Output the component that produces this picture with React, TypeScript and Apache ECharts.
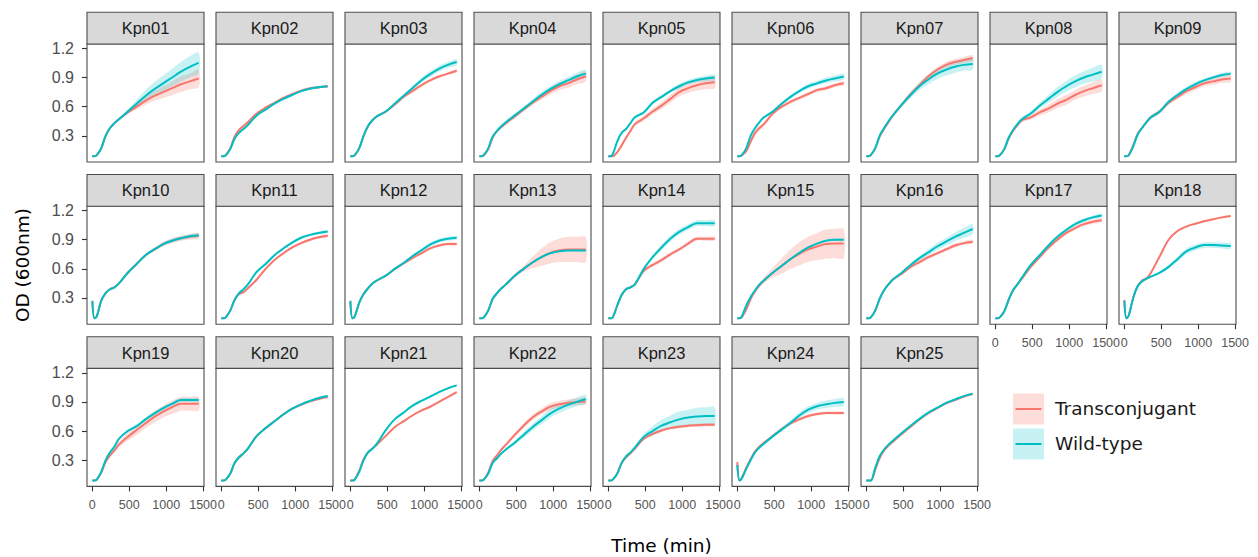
import React, { useEffect, useRef } from "react";
import * as echarts from "echarts";

// ---------- data ----------
const timeMin = [0, 30, 60, 120, 180, 240, 300, 360, 480, 600, 720, 840, 960, 1080, 1200, 1320, 1440];
const strainNames = [
  "Kpn01", "Kpn02", "Kpn03", "Kpn04", "Kpn05", "Kpn06", "Kpn07", "Kpn08", "Kpn09",
  "Kpn10", "Kpn11", "Kpn12", "Kpn13", "Kpn14", "Kpn15", "Kpn16", "Kpn17", "Kpn18",
  "Kpn19", "Kpn20", "Kpn21", "Kpn22", "Kpn23", "Kpn24", "Kpn25",
];
const groupNames = ["Transconjugant", "Wild-type"];
const xTicks = [0, 500, 1000, 1500];
const yTicks = [0.3, 0.6, 0.9, 1.2];

// mean OD (T = transconjugant, W = wild-type) and half-width of ribbon (sd)
const kpn01T = [0.09, 0.09, 0.10, 0.17, 0.30, 0.38, 0.43, 0.47, 0.54, 0.60, 0.66, 0.71, 0.75, 0.79, 0.83, 0.86, 0.89];
const kpn01W = [0.09, 0.09, 0.10, 0.17, 0.30, 0.38, 0.43, 0.47, 0.55, 0.63, 0.71, 0.78, 0.84, 0.90, 0.96, 1.01, 1.05];
const kpn01Tsd = [0.005, 0.005, 0.005, 0.01, 0.01, 0.01, 0.01, 0.01, 0.015, 0.03, 0.04, 0.05, 0.06, 0.07, 0.08, 0.08, 0.09];
const kpn01Wsd = [0.005, 0.005, 0.005, 0.01, 0.01, 0.01, 0.01, 0.015, 0.02, 0.04, 0.06, 0.07, 0.08, 0.09, 0.10, 0.11, 0.11];

const kpn02T = [0.09, 0.09, 0.10, 0.17, 0.29, 0.36, 0.40, 0.44, 0.53, 0.59, 0.64, 0.69, 0.73, 0.765, 0.79, 0.80, 0.81];
const kpn02W = [0.09, 0.09, 0.10, 0.16, 0.27, 0.33, 0.37, 0.41, 0.51, 0.57, 0.63, 0.68, 0.72, 0.76, 0.785, 0.80, 0.81];
const kpn02Tsd = [0.005, 0.005, 0.005, 0.01, 0.015, 0.015, 0.015, 0.015, 0.01, 0.01, 0.01, 0.01, 0.01, 0.01, 0.01, 0.01, 0.01];
const kpn02Wsd = [0.005, 0.005, 0.005, 0.01, 0.01, 0.01, 0.01, 0.01, 0.01, 0.01, 0.01, 0.01, 0.01, 0.01, 0.01, 0.01, 0.01];

const kpn03T = [0.09, 0.09, 0.10, 0.17, 0.30, 0.40, 0.46, 0.50, 0.55, 0.62, 0.70, 0.76, 0.82, 0.87, 0.91, 0.94, 0.97];
const kpn03W = [0.09, 0.09, 0.10, 0.17, 0.30, 0.40, 0.46, 0.50, 0.55, 0.63, 0.71, 0.79, 0.87, 0.935, 0.99, 1.03, 1.06];
const kpn03Tsd = [0.005, 0.005, 0.005, 0.01, 0.01, 0.01, 0.01, 0.01, 0.01, 0.01, 0.01, 0.015, 0.015, 0.015, 0.015, 0.015, 0.015];
const kpn03Wsd = [0.005, 0.005, 0.005, 0.01, 0.01, 0.01, 0.01, 0.01, 0.01, 0.015, 0.02, 0.02, 0.025, 0.03, 0.03, 0.03, 0.03];

const kpn04T = [0.09, 0.09, 0.10, 0.16, 0.28, 0.35, 0.39, 0.43, 0.50, 0.57, 0.64, 0.70, 0.76, 0.81, 0.84, 0.88, 0.91];
const kpn04W = [0.09, 0.09, 0.10, 0.17, 0.29, 0.35, 0.40, 0.44, 0.51, 0.58, 0.65, 0.72, 0.78, 0.83, 0.87, 0.91, 0.94];
const kpn04Tsd = [0.005, 0.005, 0.005, 0.01, 0.01, 0.015, 0.015, 0.015, 0.02, 0.02, 0.025, 0.03, 0.035, 0.04, 0.045, 0.05, 0.05];
const kpn04Wsd = [0.005, 0.005, 0.005, 0.01, 0.01, 0.015, 0.015, 0.015, 0.02, 0.02, 0.025, 0.03, 0.03, 0.035, 0.035, 0.04, 0.04];

const kpn05T = [0.09, 0.09, 0.09, 0.13, 0.20, 0.28, 0.35, 0.42, 0.48, 0.55, 0.61, 0.68, 0.75, 0.79, 0.82, 0.84, 0.85];
const kpn05W = [0.09, 0.09, 0.11, 0.24, 0.33, 0.37, 0.43, 0.49, 0.54, 0.64, 0.70, 0.76, 0.81, 0.85, 0.875, 0.89, 0.90];
const kpn05Tsd = [0.005, 0.005, 0.005, 0.01, 0.02, 0.02, 0.02, 0.02, 0.025, 0.03, 0.035, 0.04, 0.045, 0.05, 0.055, 0.06, 0.06];
const kpn05Wsd = [0.005, 0.005, 0.005, 0.01, 0.01, 0.01, 0.01, 0.015, 0.015, 0.02, 0.02, 0.02, 0.025, 0.025, 0.025, 0.03, 0.03];

const kpn06T = [0.09, 0.09, 0.10, 0.14, 0.24, 0.33, 0.38, 0.42, 0.53, 0.60, 0.65, 0.69, 0.73, 0.77, 0.79, 0.82, 0.84];
const kpn06W = [0.09, 0.09, 0.10, 0.17, 0.30, 0.38, 0.44, 0.49, 0.55, 0.63, 0.70, 0.76, 0.81, 0.84, 0.87, 0.89, 0.91];
const kpn06Tsd = [0.005, 0.005, 0.005, 0.015, 0.03, 0.03, 0.03, 0.02, 0.02, 0.02, 0.02, 0.02, 0.02, 0.02, 0.02, 0.02, 0.02];
const kpn06Wsd = [0.005, 0.005, 0.005, 0.01, 0.01, 0.01, 0.01, 0.01, 0.015, 0.015, 0.02, 0.02, 0.025, 0.025, 0.03, 0.03, 0.03];

const kpn07T = [0.09, 0.09, 0.10, 0.17, 0.29, 0.37, 0.44, 0.51, 0.62, 0.73, 0.82, 0.91, 0.98, 1.03, 1.06, 1.08, 1.10];
const kpn07W = [0.09, 0.09, 0.10, 0.17, 0.30, 0.38, 0.45, 0.51, 0.62, 0.72, 0.81, 0.88, 0.94, 0.98, 1.01, 1.03, 1.04];
const kpn07Tsd = [0.005, 0.005, 0.005, 0.01, 0.015, 0.02, 0.02, 0.02, 0.02, 0.02, 0.025, 0.025, 0.025, 0.03, 0.03, 0.03, 0.03];
const kpn07Wsd = [0.005, 0.005, 0.005, 0.01, 0.01, 0.01, 0.01, 0.015, 0.02, 0.03, 0.04, 0.05, 0.055, 0.06, 0.06, 0.06, 0.06];

const kpn08T = [0.09, 0.09, 0.10, 0.16, 0.27, 0.35, 0.41, 0.46, 0.49, 0.54, 0.58, 0.63, 0.67, 0.72, 0.76, 0.79, 0.82];
const kpn08W = [0.09, 0.09, 0.10, 0.16, 0.28, 0.36, 0.42, 0.47, 0.53, 0.61, 0.68, 0.75, 0.81, 0.86, 0.90, 0.93, 0.96];
const kpn08Tsd = [0.005, 0.005, 0.005, 0.01, 0.01, 0.015, 0.02, 0.02, 0.025, 0.03, 0.04, 0.045, 0.05, 0.05, 0.055, 0.06, 0.06];
const kpn08Wsd = [0.005, 0.005, 0.005, 0.01, 0.01, 0.015, 0.02, 0.02, 0.025, 0.03, 0.04, 0.05, 0.055, 0.06, 0.065, 0.07, 0.07];

const kpn09T = [0.09, 0.09, 0.10, 0.20, 0.32, 0.38, 0.44, 0.49, 0.55, 0.64, 0.70, 0.76, 0.80, 0.84, 0.86, 0.88, 0.89];
const kpn09W = [0.09, 0.09, 0.10, 0.19, 0.31, 0.38, 0.44, 0.49, 0.55, 0.65, 0.72, 0.78, 0.83, 0.87, 0.90, 0.925, 0.94];
const kpn09Tsd = [0.005, 0.005, 0.005, 0.01, 0.015, 0.015, 0.015, 0.02, 0.02, 0.02, 0.025, 0.03, 0.03, 0.03, 0.035, 0.035, 0.035];
const kpn09Wsd = [0.005, 0.005, 0.005, 0.01, 0.01, 0.01, 0.015, 0.015, 0.02, 0.02, 0.025, 0.025, 0.025, 0.02, 0.02, 0.02, 0.02];

const kpn10T = [0.27, 0.09, 0.11, 0.27, 0.35, 0.39, 0.41, 0.45, 0.56, 0.65, 0.74, 0.80, 0.855, 0.89, 0.915, 0.93, 0.94];
const kpn10W = [0.27, 0.09, 0.11, 0.27, 0.35, 0.39, 0.41, 0.45, 0.56, 0.65, 0.74, 0.80, 0.855, 0.89, 0.915, 0.935, 0.945];
const kpn10Tsd = [0.01, 0.005, 0.005, 0.01, 0.01, 0.01, 0.01, 0.01, 0.01, 0.015, 0.015, 0.02, 0.02, 0.025, 0.025, 0.03, 0.03];
const kpn10Wsd = [0.01, 0.005, 0.005, 0.01, 0.01, 0.01, 0.01, 0.01, 0.01, 0.01, 0.015, 0.015, 0.02, 0.02, 0.02, 0.02, 0.02];

const kpn11T = [0.09, 0.09, 0.10, 0.17, 0.28, 0.34, 0.36, 0.40, 0.49, 0.60, 0.69, 0.76, 0.82, 0.865, 0.90, 0.925, 0.94];
const kpn11W = [0.09, 0.09, 0.10, 0.17, 0.28, 0.35, 0.39, 0.44, 0.57, 0.65, 0.74, 0.81, 0.87, 0.92, 0.95, 0.97, 0.985];
const kpn11Tsd = [0.005, 0.005, 0.005, 0.01, 0.01, 0.01, 0.01, 0.015, 0.015, 0.015, 0.015, 0.015, 0.015, 0.015, 0.015, 0.015, 0.015];
const kpn11Wsd = [0.005, 0.005, 0.005, 0.01, 0.01, 0.01, 0.01, 0.01, 0.01, 0.015, 0.015, 0.015, 0.015, 0.015, 0.015, 0.015, 0.015];

const kpn12T = [0.27, 0.09, 0.11, 0.25, 0.34, 0.40, 0.45, 0.48, 0.53, 0.595, 0.655, 0.71, 0.76, 0.81, 0.84, 0.855, 0.855];
const kpn12W = [0.27, 0.09, 0.11, 0.25, 0.34, 0.40, 0.45, 0.48, 0.53, 0.60, 0.66, 0.73, 0.79, 0.85, 0.89, 0.91, 0.92];
const kpn12Tsd = [0.01, 0.005, 0.005, 0.01, 0.01, 0.01, 0.01, 0.01, 0.01, 0.01, 0.015, 0.015, 0.015, 0.015, 0.015, 0.015, 0.015];
const kpn12Wsd = [0.01, 0.005, 0.005, 0.01, 0.01, 0.01, 0.01, 0.01, 0.01, 0.01, 0.01, 0.015, 0.015, 0.02, 0.02, 0.02, 0.02];

const kpn13T = [0.09, 0.09, 0.10, 0.17, 0.29, 0.35, 0.40, 0.44, 0.53, 0.60, 0.665, 0.72, 0.765, 0.79, 0.80, 0.80, 0.80];
const kpn13W = [0.09, 0.09, 0.10, 0.17, 0.29, 0.35, 0.40, 0.44, 0.53, 0.60, 0.665, 0.72, 0.76, 0.78, 0.79, 0.79, 0.79];
const kpn13Tsd = [0.005, 0.005, 0.005, 0.01, 0.01, 0.01, 0.01, 0.015, 0.02, 0.03, 0.06, 0.09, 0.11, 0.12, 0.13, 0.13, 0.13];
const kpn13Wsd = [0.005, 0.005, 0.005, 0.01, 0.01, 0.01, 0.01, 0.01, 0.01, 0.01, 0.01, 0.01, 0.01, 0.01, 0.01, 0.01, 0.01];

const kpn14T = [0.09, 0.09, 0.10, 0.22, 0.33, 0.39, 0.41, 0.44, 0.58, 0.64, 0.69, 0.75, 0.80, 0.86, 0.91, 0.91, 0.91];
const kpn14W = [0.09, 0.09, 0.10, 0.22, 0.33, 0.39, 0.41, 0.44, 0.60, 0.72, 0.82, 0.91, 0.98, 1.03, 1.07, 1.07, 1.07];
const kpn14Tsd = [0.005, 0.005, 0.005, 0.01, 0.01, 0.01, 0.01, 0.01, 0.015, 0.02, 0.02, 0.02, 0.02, 0.02, 0.02, 0.02, 0.02];
const kpn14Wsd = [0.005, 0.005, 0.005, 0.01, 0.01, 0.01, 0.01, 0.01, 0.015, 0.02, 0.025, 0.03, 0.03, 0.03, 0.03, 0.03, 0.03];

const kpn15T = [0.09, 0.09, 0.10, 0.18, 0.29, 0.37, 0.43, 0.48, 0.56, 0.63, 0.70, 0.755, 0.80, 0.83, 0.855, 0.86, 0.86];
const kpn15W = [0.09, 0.09, 0.11, 0.22, 0.31, 0.38, 0.44, 0.48, 0.56, 0.63, 0.70, 0.765, 0.82, 0.86, 0.89, 0.90, 0.90];
const kpn15Tsd = [0.005, 0.005, 0.005, 0.01, 0.015, 0.02, 0.02, 0.03, 0.05, 0.08, 0.10, 0.12, 0.13, 0.14, 0.15, 0.15, 0.15];
const kpn15Wsd = [0.005, 0.005, 0.005, 0.01, 0.01, 0.01, 0.01, 0.01, 0.01, 0.01, 0.01, 0.01, 0.01, 0.01, 0.01, 0.01, 0.01];

const kpn16T = [0.09, 0.09, 0.10, 0.17, 0.29, 0.38, 0.44, 0.49, 0.55, 0.62, 0.67, 0.72, 0.76, 0.80, 0.84, 0.865, 0.88];
const kpn16W = [0.09, 0.09, 0.10, 0.17, 0.29, 0.38, 0.44, 0.49, 0.56, 0.64, 0.71, 0.77, 0.83, 0.88, 0.93, 0.97, 1.01];
const kpn16Tsd = [0.005, 0.005, 0.005, 0.01, 0.01, 0.01, 0.01, 0.01, 0.015, 0.015, 0.02, 0.02, 0.02, 0.02, 0.02, 0.02, 0.02];
const kpn16Wsd = [0.005, 0.005, 0.005, 0.01, 0.01, 0.01, 0.01, 0.01, 0.015, 0.02, 0.025, 0.03, 0.035, 0.04, 0.045, 0.05, 0.05];

const kpn17T = [0.09, 0.09, 0.10, 0.16, 0.28, 0.38, 0.44, 0.50, 0.62, 0.72, 0.82, 0.90, 0.97, 1.02, 1.06, 1.085, 1.10];
const kpn17W = [0.09, 0.09, 0.10, 0.16, 0.28, 0.38, 0.44, 0.51, 0.64, 0.74, 0.84, 0.93, 1.00, 1.06, 1.10, 1.13, 1.15];
const kpn17Tsd = [0.005, 0.005, 0.005, 0.01, 0.01, 0.01, 0.01, 0.01, 0.015, 0.015, 0.02, 0.02, 0.02, 0.02, 0.02, 0.02, 0.02];
const kpn17Wsd = [0.005, 0.005, 0.005, 0.01, 0.01, 0.01, 0.01, 0.01, 0.01, 0.015, 0.015, 0.015, 0.02, 0.02, 0.02, 0.02, 0.02];

const kpn18T = [0.28, 0.09, 0.12, 0.30, 0.42, 0.48, 0.50, 0.56, 0.73, 0.90, 0.99, 1.035, 1.065, 1.09, 1.11, 1.13, 1.145];
const kpn18W = [0.27, 0.09, 0.12, 0.30, 0.42, 0.47, 0.50, 0.52, 0.56, 0.62, 0.70, 0.78, 0.82, 0.845, 0.845, 0.84, 0.835];
const kpn18Tsd = [0.01, 0.005, 0.005, 0.01, 0.01, 0.01, 0.01, 0.01, 0.01, 0.01, 0.01, 0.01, 0.01, 0.01, 0.01, 0.01, 0.01];
const kpn18Wsd = [0.01, 0.005, 0.005, 0.01, 0.01, 0.01, 0.01, 0.01, 0.015, 0.02, 0.025, 0.03, 0.03, 0.03, 0.03, 0.03, 0.03];

const kpn19T = [0.09, 0.09, 0.10, 0.17, 0.28, 0.35, 0.40, 0.46, 0.54, 0.61, 0.68, 0.745, 0.80, 0.845, 0.88, 0.88, 0.88];
const kpn19W = [0.09, 0.09, 0.10, 0.18, 0.30, 0.38, 0.44, 0.52, 0.60, 0.65, 0.72, 0.78, 0.835, 0.88, 0.92, 0.92, 0.92];
const kpn19Tsd = [0.005, 0.005, 0.005, 0.01, 0.01, 0.015, 0.02, 0.03, 0.04, 0.05, 0.05, 0.06, 0.06, 0.07, 0.07, 0.07, 0.07];
const kpn19Wsd = [0.005, 0.005, 0.005, 0.01, 0.01, 0.01, 0.015, 0.015, 0.015, 0.02, 0.02, 0.02, 0.02, 0.02, 0.02, 0.02, 0.02];

const kpn20T = [0.09, 0.09, 0.10, 0.16, 0.27, 0.33, 0.37, 0.42, 0.55, 0.63, 0.70, 0.77, 0.83, 0.87, 0.905, 0.93, 0.95];
const kpn20W = [0.09, 0.09, 0.10, 0.16, 0.27, 0.33, 0.37, 0.42, 0.55, 0.63, 0.70, 0.77, 0.83, 0.875, 0.91, 0.94, 0.96];
const kpn20Tsd = [0.005, 0.005, 0.005, 0.01, 0.01, 0.01, 0.01, 0.01, 0.01, 0.01, 0.01, 0.01, 0.01, 0.01, 0.01, 0.01, 0.01];
const kpn20Wsd = [0.005, 0.005, 0.005, 0.01, 0.01, 0.01, 0.01, 0.01, 0.01, 0.01, 0.01, 0.01, 0.01, 0.01, 0.01, 0.01, 0.01];

const kpn21T = [0.09, 0.09, 0.10, 0.19, 0.31, 0.38, 0.42, 0.46, 0.55, 0.64, 0.70, 0.76, 0.81, 0.85, 0.90, 0.95, 1.00];
const kpn21W = [0.09, 0.09, 0.10, 0.18, 0.30, 0.38, 0.42, 0.47, 0.61, 0.72, 0.79, 0.86, 0.91, 0.955, 1.00, 1.04, 1.07];
const kpn21Tsd = [0.005, 0.005, 0.005, 0.01, 0.01, 0.01, 0.01, 0.01, 0.01, 0.01, 0.01, 0.01, 0.01, 0.01, 0.01, 0.01, 0.01];
const kpn21Wsd = [0.005, 0.005, 0.005, 0.01, 0.01, 0.01, 0.01, 0.01, 0.01, 0.01, 0.01, 0.01, 0.01, 0.01, 0.01, 0.01, 0.01];

const kpn22T = [0.09, 0.09, 0.10, 0.17, 0.29, 0.35, 0.41, 0.46, 0.56, 0.655, 0.74, 0.80, 0.85, 0.875, 0.89, 0.90, 0.905];
const kpn22W = [0.09, 0.09, 0.10, 0.16, 0.27, 0.32, 0.37, 0.41, 0.48, 0.56, 0.64, 0.71, 0.78, 0.83, 0.87, 0.90, 0.93];
const kpn22Tsd = [0.005, 0.005, 0.005, 0.01, 0.01, 0.01, 0.01, 0.015, 0.02, 0.025, 0.03, 0.03, 0.035, 0.035, 0.035, 0.035, 0.035];
const kpn22Wsd = [0.005, 0.005, 0.005, 0.01, 0.01, 0.01, 0.01, 0.015, 0.02, 0.03, 0.035, 0.04, 0.045, 0.045, 0.045, 0.045, 0.045];

const kpn23T = [0.09, 0.09, 0.10, 0.16, 0.27, 0.33, 0.37, 0.42, 0.52, 0.57, 0.605, 0.63, 0.645, 0.655, 0.66, 0.665, 0.665];
const kpn23W = [0.09, 0.09, 0.10, 0.16, 0.27, 0.34, 0.38, 0.43, 0.54, 0.60, 0.655, 0.69, 0.72, 0.74, 0.75, 0.755, 0.755];
const kpn23Tsd = [0.005, 0.005, 0.005, 0.01, 0.01, 0.01, 0.01, 0.01, 0.015, 0.015, 0.015, 0.015, 0.015, 0.015, 0.015, 0.015, 0.015];
const kpn23Wsd = [0.005, 0.005, 0.005, 0.01, 0.01, 0.01, 0.015, 0.02, 0.03, 0.05, 0.06, 0.07, 0.08, 0.08, 0.09, 0.09, 0.09];

const kpn24T = [0.28, 0.09, 0.12, 0.22, 0.31, 0.39, 0.44, 0.48, 0.55, 0.62, 0.68, 0.72, 0.755, 0.775, 0.785, 0.785, 0.785];
const kpn24W = [0.25, 0.09, 0.11, 0.21, 0.30, 0.38, 0.43, 0.47, 0.545, 0.615, 0.685, 0.76, 0.82, 0.855, 0.875, 0.89, 0.90];
const kpn24Tsd = [0.01, 0.005, 0.005, 0.01, 0.01, 0.01, 0.01, 0.01, 0.01, 0.015, 0.015, 0.015, 0.015, 0.015, 0.015, 0.015, 0.015];
const kpn24Wsd = [0.01, 0.005, 0.005, 0.01, 0.01, 0.01, 0.01, 0.01, 0.015, 0.02, 0.025, 0.03, 0.035, 0.035, 0.04, 0.04, 0.04];

const kpn25T = [0.09, 0.09, 0.09, 0.20, 0.32, 0.40, 0.45, 0.49, 0.57, 0.645, 0.72, 0.785, 0.835, 0.885, 0.92, 0.955, 0.98];
const kpn25W = [0.09, 0.09, 0.09, 0.22, 0.34, 0.41, 0.46, 0.50, 0.58, 0.655, 0.725, 0.79, 0.84, 0.89, 0.925, 0.96, 0.985];
const kpn25Tsd = [0.005, 0.005, 0.005, 0.01, 0.01, 0.01, 0.01, 0.01, 0.01, 0.01, 0.01, 0.01, 0.01, 0.01, 0.01, 0.01, 0.01];
const kpn25Wsd = [0.005, 0.005, 0.005, 0.01, 0.01, 0.01, 0.01, 0.01, 0.01, 0.01, 0.01, 0.01, 0.01, 0.01, 0.01, 0.01, 0.01];

const transconjugantMean = [kpn01T, kpn02T, kpn03T, kpn04T, kpn05T, kpn06T, kpn07T, kpn08T, kpn09T, kpn10T, kpn11T, kpn12T, kpn13T, kpn14T, kpn15T, kpn16T, kpn17T, kpn18T, kpn19T, kpn20T, kpn21T, kpn22T, kpn23T, kpn24T, kpn25T];
const wildTypeMean = [kpn01W, kpn02W, kpn03W, kpn04W, kpn05W, kpn06W, kpn07W, kpn08W, kpn09W, kpn10W, kpn11W, kpn12W, kpn13W, kpn14W, kpn15W, kpn16W, kpn17W, kpn18W, kpn19W, kpn20W, kpn21W, kpn22W, kpn23W, kpn24W, kpn25W];
const transconjugantSd = [kpn01Tsd, kpn02Tsd, kpn03Tsd, kpn04Tsd, kpn05Tsd, kpn06Tsd, kpn07Tsd, kpn08Tsd, kpn09Tsd, kpn10Tsd, kpn11Tsd, kpn12Tsd, kpn13Tsd, kpn14Tsd, kpn15Tsd, kpn16Tsd, kpn17Tsd, kpn18Tsd, kpn19Tsd, kpn20Tsd, kpn21Tsd, kpn22Tsd, kpn23Tsd, kpn24Tsd, kpn25Tsd];
const wildTypeSd = [kpn01Wsd, kpn02Wsd, kpn03Wsd, kpn04Wsd, kpn05Wsd, kpn06Wsd, kpn07Wsd, kpn08Wsd, kpn09Wsd, kpn10Wsd, kpn11Wsd, kpn12Wsd, kpn13Wsd, kpn14Wsd, kpn15Wsd, kpn16Wsd, kpn17Wsd, kpn18Wsd, kpn19Wsd, kpn20Wsd, kpn21Wsd, kpn22Wsd, kpn23Wsd, kpn24Wsd, kpn25Wsd];

// ---------- styling / layout ----------
const LINE_COLORS = ["#F8766D", "#00BFC4"];
const RIBBON_COLORS = ["rgba(248,118,109,0.25)", "rgba(0,191,196,0.22)"];
const NCOL = 9;
const COL_LEFT0 = 87;
const COL_STEP = 129;
const PANEL_W = 117;
const ROW_TOP0 = 44;
const ROW_STEP = 162.2;
const PANEL_H = 118;
const STRIP_H = 31.7;
const X_MIN = -72;
const X_MAX = 1512;
const Y_MIN = 0.03;
const Y_MAX = 1.245;
const SANS = "'Liberation Sans', Arial, sans-serif";
const DEJAVU = "'DejaVu Sans', sans-serif";
const FRAME = "#4d4d4d";

function buildOption() {
  const grids: any[] = [];
  const xAxes: any[] = [];
  const yAxes: any[] = [];
  const ribbons: any[] = [];
  const lines: any[] = [];
  const graphics: any[] = [];
  const means = [transconjugantMean, wildTypeMean];
  const sds = [transconjugantSd, wildTypeSd];

  strainNames.forEach((name, i) => {
    const row = Math.floor(i / NCOL);
    const col = i % NCOL;
    const left = COL_LEFT0 + col * COL_STEP;
    const top = ROW_TOP0 + row * ROW_STEP;
    const showX = i + NCOL >= strainNames.length;
    const showY = col === 0;
    grids.push({
      left, top, width: PANEL_W, height: PANEL_H,
      show: true, borderColor: FRAME, borderWidth: 1.1, backgroundColor: "#ffffff",
      containLabel: false, outerBoundsMode: "none",
    });
    xAxes.push({
      type: "value", gridIndex: i, min: X_MIN, max: X_MAX,
      splitLine: { show: false },
      axisLine: { show: false, onZero: false },
      axisTick: { show: showX, customValues: xTicks, length: 5, lineStyle: { color: "#333333", width: 1.1 } },
      axisLabel: {
        show: showX, customValues: xTicks, margin: 12, fontSize: 12.5, color: "#555555", fontFamily: SANS,
        formatter: (v: number) => String(v),
      },
    });
    yAxes.push({
      type: "value", gridIndex: i, min: Y_MIN, max: Y_MAX,
      splitLine: { show: false },
      axisLine: { show: false, onZero: false },
      axisTick: { show: showY, customValues: yTicks, length: 5, lineStyle: { color: "#333333", width: 1.1 } },
      axisLabel: {
        show: showY, customValues: yTicks, margin: 13, fontSize: 16, color: "#4d4d4d", fontFamily: SANS,
        formatter: (v: number) => v.toFixed(1),
      },
    });

    for (let g = 0; g < 2; g++) {
      const m = means[g][i];
      const s = sds[g][i];
      const lo = m.map((v, k) => v - s[k]);
      const hi = m.map((v, k) => v + s[k]);
      const fill = RIBBON_COLORS[g];
      ribbons.push({
        type: "custom", xAxisIndex: i, yAxisIndex: i, silent: true, clip: false,
        encode: { x: 0, y: [1, 2] },
        data: timeMin.map((t, k) => [t, lo[k], hi[k]]),
        renderItem: (params: any, api: any) => {
          if (params.dataIndex !== 0) return null;
          const upper = timeMin.map((t, k) => api.coord([t, hi[k]]));
          const lower = timeMin.map((t, k) => api.coord([t, lo[k]])).reverse();
          return {
            type: "polygon",
            shape: { points: upper.concat(lower), smooth: 0.3 },
            style: { fill, stroke: "none" },
          };
        },
        z: 1,
      });
      lines.push({
        type: "line", name: groupNames[g], xAxisIndex: i, yAxisIndex: i, smooth: 0.35,
        symbol: "none", lineStyle: { color: LINE_COLORS[g], width: 2 },
        data: timeMin.map((t, k) => [t, m[k]]),
        z: 3,
      });
    }

    graphics.push({
      type: "rect",
      shape: { x: left, y: top - STRIP_H, width: PANEL_W, height: STRIP_H },
      style: { fill: "#D9D9D9", stroke: FRAME, lineWidth: 1.1 },
    });
    graphics.push({
      type: "text",
      x: left + PANEL_W / 2, y: top - STRIP_H / 2,
      style: {
        text: name, fill: "#1a1a1a", fontSize: 16.5, fontFamily: SANS,
        align: "center", verticalAlign: "middle",
      },
    });
  });

  // axis titles
  graphics.push({
    type: "text", x: COL_LEFT0 + (COL_STEP * (NCOL - 1) + PANEL_W) / 2, y: 545,
    style: { text: "Time (min)", fill: "#000000", fontSize: 18.5, fontFamily: DEJAVU, align: "center", verticalAlign: "middle" },
  });
  graphics.push({
    type: "text", x: 22, y: 265, rotation: Math.PI / 2,
    style: { text: "OD (600nm)", fill: "#000000", fontSize: 18.5, fontFamily: DEJAVU, align: "center", verticalAlign: "middle" },
  });

  // legend
  groupNames.forEach((gName, g) => {
    const ky = 393.5 + g * 35;
    graphics.push({
      type: "rect", shape: { x: 1013, y: ky, width: 31, height: 31 },
      style: { fill: RIBBON_COLORS[g] },
    });
    graphics.push({
      type: "line", shape: { x1: 1015.5, y1: ky + 15.5, x2: 1041.5, y2: ky + 15.5 },
      style: { stroke: LINE_COLORS[g], lineWidth: 2 },
    });
    graphics.push({
      type: "text", x: 1055, y: ky + 15,
      style: { text: gName, fill: "#1a1a1a", fontSize: 18.5, fontFamily: DEJAVU, align: "left", verticalAlign: "middle" },
    });
  });

  return {
    animation: false,
    backgroundColor: "#ffffff",
    grid: grids,
    xAxis: xAxes,
    yAxis: yAxes,
    series: [...ribbons, ...lines],
    graphic: graphics,
  };
}

export default function App() {
  const ref = useRef<HTMLDivElement>(null);
  useEffect(() => {
    if (!ref.current) return;
    const chart = echarts.init(ref.current, null, { renderer: "svg" });
    chart.setOption(buildOption() as any);
    return () => chart.dispose();
  }, []);
  return (
    <div
      ref={ref}
      style={{ position: "absolute", left: 0, top: 0, width: 1258, height: 557 }}
    />
  );
}
